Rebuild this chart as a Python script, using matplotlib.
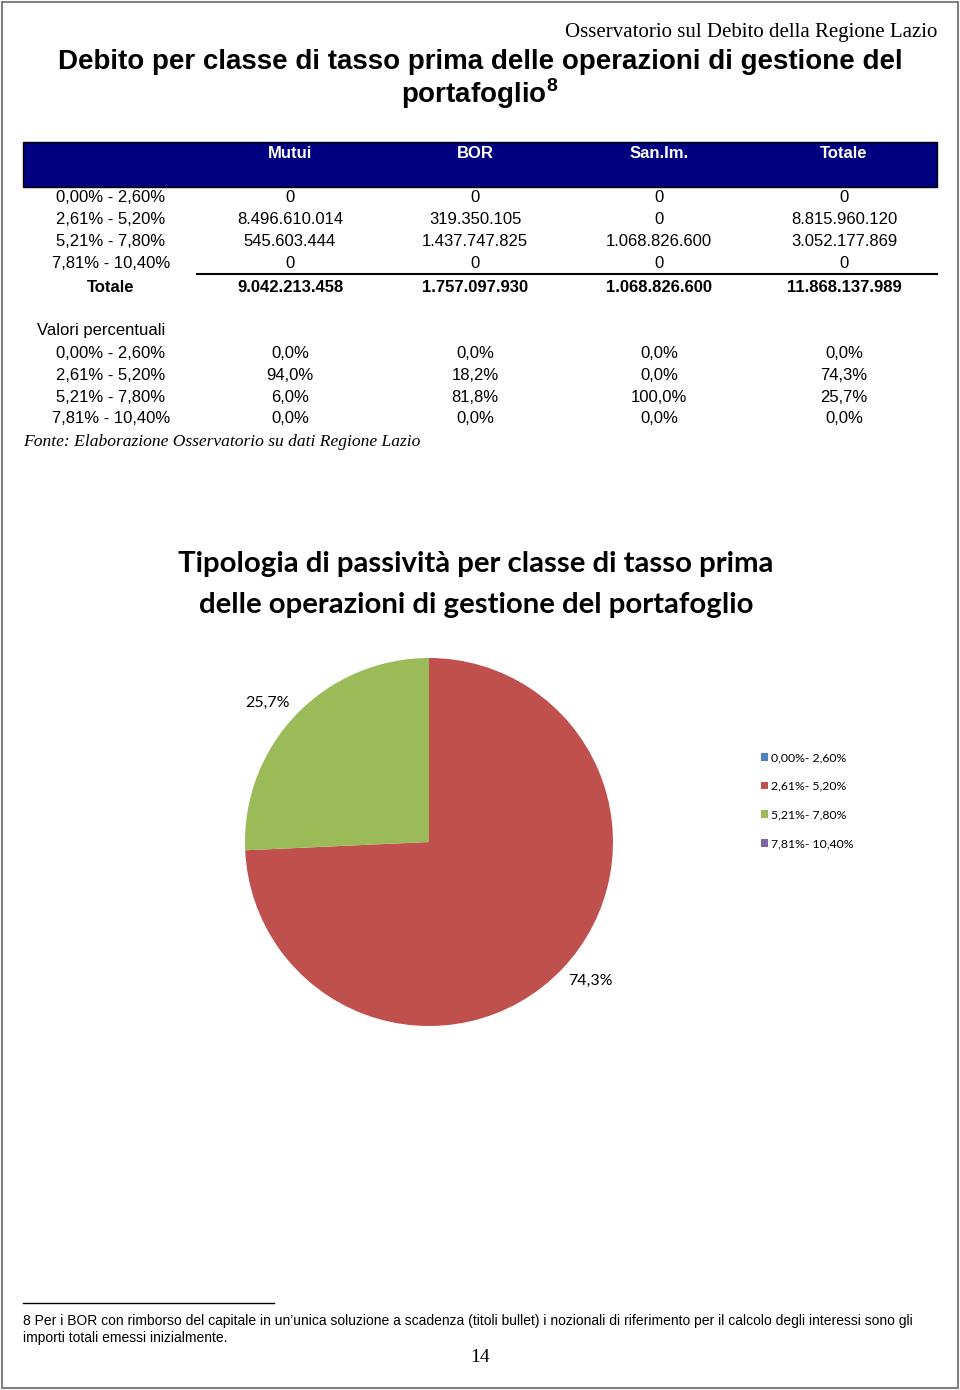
import numpy as np
import matplotlib.pyplot as plt
from matplotlib.patches import Rectangle
from matplotlib.lines import Line2D

# data
classi = ['0,00% - 2,60%', '2,61% - 5,20%', '5,21% - 7,80%', '7,81% - 10,40%']
colonne = ['Mutui', 'BOR', 'San.Im.', 'Totale']
mutui = [0, 8496610014, 545603444, 0]
bor = [0, 319350105, 1437747825, 0]
sanim = [0, 0, 1068826600, 0]
totale = [0, 8815960120, 3052177869, 0]
totali_col = [9042213458, 1757097930, 1068826600, 11868137989]
perc_mutui = [0.0, 94.0, 6.0, 0.0]
perc_bor = [0.0, 18.2, 81.8, 0.0]
perc_sanim = [0.0, 0.0, 100.0, 0.0]
perc_totale = [0.0, 74.3, 25.7, 0.0]
pie_colors = ['#4F81BD', '#C0504D', '#9BBB59', '#8064A2']

plt.rcParams['mathtext.fontset'] = 'custom'
plt.rcParams['mathtext.bf'] = 'Liberation Sans:bold'
plt.rcParams['mathtext.rm'] = 'Liberation Sans'

W, H = 960, 1390
fig = plt.figure(figsize=(W / 100, H / 100), dpi=100)

sans = ['Liberation Sans', 'DejaVu Sans']
serif = ['Liberation Serif', 'DejaVu Serif']
cal = ['Lato', 'DejaVu Sans']


def px(x, y):
    return x / W, 1 - y / H


def txt(x, y, s, **kw):
    fx, fy = px(x, y)
    fig.text(fx, fy, s, **kw)


def num(v):
    return f'{v:,}'.replace(',', '.')


def pct(v):
    return f'{v:.1f}%'.replace('.', ',')


# page border
fig.patches.append(Rectangle((2 / W, 2 / H), (W - 4) / W, (H - 4) / H,
                             transform=fig.transFigure, fill=False,
                             edgecolor='#808080', lw=1.5))

txt(937, 33, 'Osservatorio sul Debito della Regione Lazio', ha='right', va='center',
    family=serif, fontsize=15)
txt(480, 62, 'Debito per classe di tasso prima delle operazioni di gestione del',
    ha='center', va='center', family=sans, fontsize=20, fontweight='bold')
txt(480, 94, r'portafoglio$^{\mathbf{8}}$', ha='center', va='center', family=sans,
    fontsize=20, fontweight='bold')

# table header
fig.patches.append(Rectangle(px(23, 187), 914 / W, 45 / H, transform=fig.transFigure,
                             facecolor='#000080', edgecolor='black', lw=1))
col_x = [290, 475, 659, 844]
for c, x in zip(colonne, col_x):
    txt(x, 154, c, ha='center', va='center', color='white', family=sans,
        fontsize=12, fontweight='bold')

rows_y = [198, 220, 242, 264]
series = [mutui, bor, sanim, totale]
for i, (cl, y) in enumerate(zip(classi, rows_y)):
    txt(111, y, cl, ha='center', va='center', family=sans, fontsize=12)
    for s, x in zip(series, col_x):
        txt(x, y, num(s[i]), ha='center', va='center', family=sans, fontsize=12)

fig.lines.append(Line2D([197 / W, 937 / W], [1 - 274 / H, 1 - 274 / H],
                        transform=fig.transFigure, color='black', lw=1.5))
txt(111, 287, 'Totale', ha='center', va='center', family=sans, fontsize=12,
    fontweight='bold')
for v, x in zip(totali_col, col_x):
    txt(x, 287, num(v), ha='center', va='center', family=sans, fontsize=12,
        fontweight='bold')

txt(37, 331, 'Valori percentuali', ha='left', va='center', family=sans, fontsize=12)
pseries = [perc_mutui, perc_bor, perc_sanim, perc_totale]
for i, (cl, y) in enumerate(zip(classi, [353, 375, 397, 419])):
    txt(111, y, cl, ha='center', va='center', family=sans, fontsize=12)
    for s, x in zip(pseries, col_x):
        txt(x, y, pct(s[i]), ha='center', va='center', family=sans, fontsize=12)

txt(23, 442, 'Fonte: Elaborazione Osservatorio su dati Regione Lazio', ha='left',
    va='center', family=serif, fontsize=12.6, style='italic')

# chart
txt(476, 564, 'Tipologia di passività per classe di tasso prima', ha='center',
    va='center', family=cal, fontsize=21.2, fontweight='bold')
txt(476, 605, 'delle operazioni di gestione del portafoglio', ha='center',
    va='center', family=cal, fontsize=21.2, fontweight='bold')

cx, cy, r = 429, 842, 184
ax = fig.add_axes([(cx - r) / W, (H - cy - r) / H, 2 * r / W, 2 * r / H])


def autopct(p):
    return pct(p) if p > 0.05 else ''


wedges, _, autotexts = ax.pie(totale, colors=pie_colors, startangle=90, counterclock=False,
                              autopct=autopct, pctdistance=1.17,
                              textprops=dict(family=cal, fontsize=11.5))
# Excel "best fit" puts the labels a little off the wedge middle
for w, t in zip(wedges, autotexts):
    ang = np.deg2rad((w.theta1 + w.theta2) / 2 + 3)
    t.set_position((1.16 * np.cos(ang), 1.16 * np.sin(ang)))
ax.set_xlim(-1, 1)
ax.set_ylim(-1, 1)
ax.set_aspect('equal')
ax.axis('off')

leg = fig.legend(wedges, [c.replace(' - ', '- ') for c in classi],
                 loc='upper left', bbox_to_anchor=px(750, 741), frameon=False,
                 prop=dict(family=cal, size=8.8), handlelength=0.6, handleheight=0.6,
                 handletextpad=0.25, labelspacing=1.45)

# footnote
fig.lines.append(Line2D([23 / W, 274 / W], [1 - 1303 / H, 1 - 1303 / H],
                        transform=fig.transFigure, color='black', lw=1))
txt(23, 1321, "8 Per i BOR con rimborso del capitale in un’unica soluzione a scadenza (titoli bullet) "
    "i nozionali di riferimento per il calcolo degli interessi sono gli", ha='left',
    va='center', family=sans, fontsize=10)
txt(23, 1338, 'importi totali emessi inizialmente.', ha='left', va='center', family=sans,
    fontsize=10)
txt(480, 1358, '14', ha='center', va='center', family=serif, fontsize=14)

fig.savefig('out.png', dpi=100)
